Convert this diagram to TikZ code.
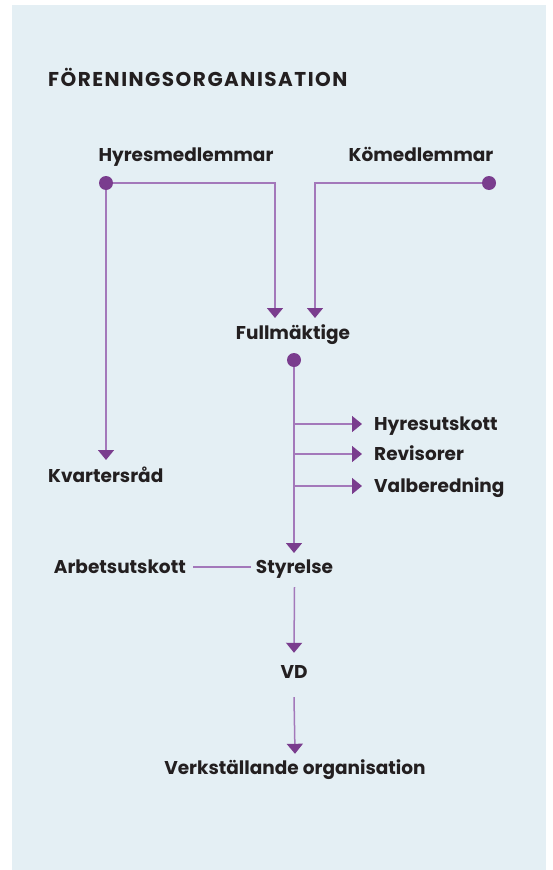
\documentclass[tikz,border=0pt]{standalone}
\usepackage{fontspec}
\setmainfont{Poppins}
\newfontfamily\titlefont{Poppins}[LetterSpace=7.5]
\usetikzlibrary{arrows.meta}
\definecolor{bgblue}{RGB}{228,239,244}
\definecolor{linepurple}{RGB}{163,120,186}
\definecolor{dotpurple}{RGB}{122,61,142}
\definecolor{txtgray}{RGB}{35,31,32}
\tikzset{
  lbl/.style={font=\fontsize{18.5}{20}\selectfont\bfseries, text=txtgray,
    inner sep=0pt, text height=13pt, text depth=1pt},
  conn/.style={draw=linepurple, line width=1.5pt,
    -{Triangle[width=16pt,length=10pt,color=dotpurple]}},
  link/.style={draw=linepurple, line width=1.5pt}
}
\begin{document}
\begin{tikzpicture}[x=1pt,y=-1pt]
\fill[white] (0,0) rectangle (553,870);
\fill[bgblue] (12,5) rectangle (546,870);
\useasboundingbox (0,0) rectangle (553,870);

\node[lbl, anchor=west, font=\titlefont\fontsize{20}{22}\selectfont\bfseries] (title) at (48,80) {FÖRENINGSORGANISATION};

\node[lbl] (hyr) at (186,155) {Hyresmedlemmar};
\node[lbl] (kom) at (421,155) {Kömedlemmar};
\node[lbl] (full) at (293,333) {Fullmäktige};
\node[lbl, anchor=west] (kvar) at (48,476) {Kvartersråd};
\node[lbl, anchor=west] (hyu) at (374,424) {Hyresutskott};
\node[lbl, anchor=west] (rev) at (374,454) {Revisorer};
\node[lbl, anchor=west] (val) at (374,486) {Valberedning};
\node[lbl] (styr) at (294.5,567) {Styrelse};
\node[lbl, anchor=east] (arb) at (186,567) {Arbetsutskott};
\node[lbl] (vd) at (294,672) {VD};
\node[lbl] (verk) at (295,768) {Verkställande organisation};

% punkter och pilspetsar
\coordinate (dh) at (106,183);
\coordinate (dk) at (489,183);
\coordinate (df) at (294,360);
\coordinate (tl) at (275,318);
\coordinate (tr) at (315,318);
\coordinate (tk) at (106,460);
\coordinate (ts) at (294,553);

\draw[conn] (dh) -| (tl);
\draw[conn] (dk) -| (tr);
\draw[conn] (dh) -- (tk);
\draw[conn] (df) -- (ts);
\foreach \n in {hyu,rev,val}
\draw[conn] (df |- \n.west) -- ([xshift=-12pt]\n.west);
\draw[link] ([xshift=7pt]arb.east) -- ([xshift=-5pt]styr.west);
\draw[conn] ([yshift=-13pt]styr.south) -- ([yshift=12pt]vd.north);
\draw[conn] ([yshift=-18pt]vd.south) -- ([yshift=7pt]verk.north);

\foreach \point in {dh,dk,df}
\fill[dotpurple] (\point) circle (7pt);
\end{tikzpicture}
\end{document}
